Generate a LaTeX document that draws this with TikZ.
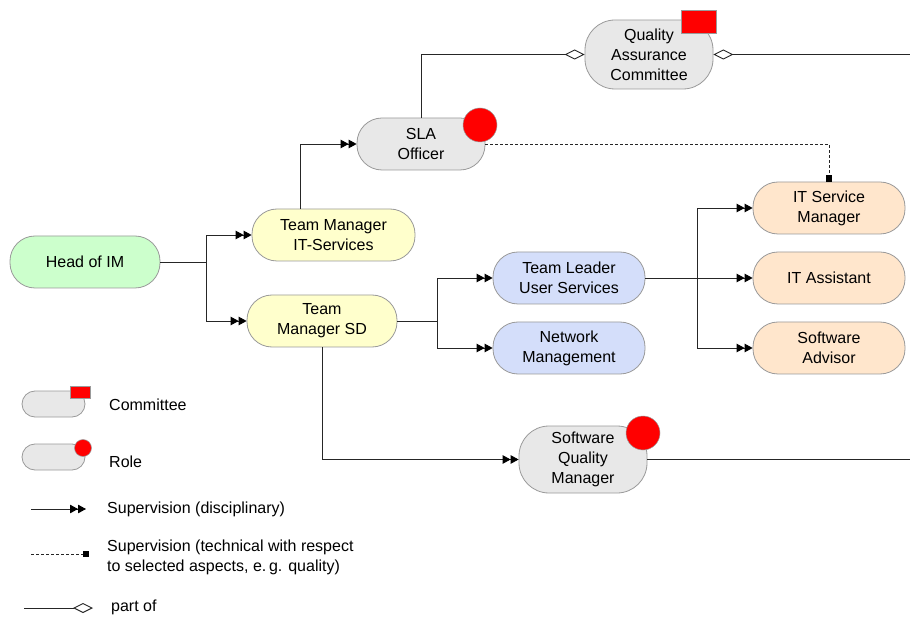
\documentclass[tikz,border=0pt]{standalone}
\usepackage{fontspec}
\setmainfont{Liberation Sans}
\usetikzlibrary{arrows.meta,positioning}
\definecolor{linec}{HTML}{262626}
\definecolor{borderc}{HTML}{9A9A9A}
\definecolor{greenf}{HTML}{CCFFCC}
\definecolor{yellowf}{HTML}{FFFFCC}
\definecolor{grayf}{HTML}{E8E8E8}
\definecolor{bluef}{HTML}{D4DEFA}
\definecolor{peachf}{HTML}{FFE6CC}
\tikzset{
  box/.style={draw=borderc, line width=0.8pt, rectangle, rounded corners=25pt,
    minimum height=52pt, align=center, inner sep=2pt,
    font=\fontsize{16}{20}\selectfont},
  greenbox/.style={box, fill=greenf, minimum width=150pt},
  yellowbox/.style={box, fill=yellowf},
  graybox/.style={box, fill=grayf, minimum width=128pt},
  bluebox/.style={box, fill=bluef, minimum width=152pt},
  peachbox/.style={box, fill=peachf, minimum width=152pt},
  conn/.style={draw=linec, line width=0.9pt},
  sup/.style={conn, -{Triangle[length=8pt,width=8.5pt,color=black]Triangle[length=8pt,width=8.5pt,color=black]}},
  partof/.style={conn},
  tech/.style={conn, dash pattern=on 3pt off 2pt, -{Square[length=6.5pt,width=6.5pt,color=black]}},
  roledot/.style={circle, fill=red, draw=borderc, line width=0.5pt, inner sep=0pt},
  commrect/.style={rectangle, fill=red, draw=borderc, line width=0.8pt, inner sep=0pt},
  legtext/.style={anchor=west, align=left, inner sep=0pt, font=\fontsize{16}{20}\selectfont},
  legbox/.style={draw=borderc, line width=0.8pt, fill=grayf, rectangle, rounded corners=13pt,
    minimum width=63pt, minimum height=26pt, inner sep=0pt}
}
\begin{document}
\begin{tikzpicture}[x=1pt,y=-1pt]
\useasboundingbox[fill=white] (0,0) rectangle (910,617);

% nodes
\node[greenbox] (head) at (85,262) {Head of IM};
\node[yellowbox, minimum width=163pt] (tmit) at (333.5,235) {Team Manager\\IT-Services};
\node[yellowbox, minimum width=150pt] (tmsd) at (322,321) {Team\\Manager SD};
\node[graybox] (sla) at (421,144) {SLA\\Officer};
\node[graybox, minimum height=69pt, rounded corners=30pt] (qac) at (649,54.5) {Quality\\Assurance\\Committee};
\node[bluebox] (tlus) at (569,278) {Team Leader\\User Services};
\node[bluebox] (nm) at (569,348) {Network\\Management};
\node[peachbox] (itsm) at (829,208) {IT Service\\Manager};
\node[peachbox] (ita) at (829,278) {IT Assistant};
\node[peachbox] (sa) at (829,348) {Software\\Advisor};
\node[graybox, minimum height=67pt, rounded corners=30pt] (sqm) at (583,459.5) {Software\\Quality\\Manager};

% decorations
\node[roledot, minimum size=34pt] (sladot) at (480,125) {};
\node[roledot, minimum size=34pt] (sqmdot) at (643,433) {};
\node[commrect, minimum width=35pt, minimum height=23pt] (qacrect) at (698.5,21.5) {};

% free ends
\coordinate (qacend) at (910,54.5);
\coordinate (sqmend) at (910,459.5);

% connectors
\draw[sup] (head.east) -- ++(46,0) |- (tmit);
\draw[sup] (head.east) -- ++(46,0) |- (tmsd);
\draw[sup] ([xshift=-33.5pt]tmit.north) |- (sla);
\draw[partof, -{Diamond[open,length=20pt,width=10pt]}] (sla.north) |- (qac);
\draw[partof, {Diamond[open,length=20pt,width=10pt]}-] (qac.east) -- (qacend);
\draw[tech] (sla.east) -| (itsm.north);
\draw[sup] (tmsd.east) -- ++(40,0) |- (tlus);
\draw[sup] (tmsd.east) -- ++(40,0) |- (nm);
\draw[sup] (tlus.east) -- ++(52,0) |- (itsm);
\draw[sup] (tlus.east) -- (ita.west);
\draw[sup] (tlus.east) -- ++(52,0) |- (sa);
\draw[sup] (tmsd.south) |- (sqm);
\draw[conn] (sqm.east) -- (sqmend);

% legend
\node[legbox] (lgc) at (53.5,404) {};
\node[commrect, minimum width=20pt, minimum height=12pt] (lgcr) at (80,392) {};
\node[legtext] (lgct) at (109,405) {Committee};
\node[legbox] (lgr) at (53.5,457) {};
\node[roledot, minimum size=17pt] (lgrd) at (83,448) {};
\node[legtext] (lgrt) at (109,462) {Role};

\coordinate (ls1) at (31,509);
\coordinate (le1) at (86,509);
\draw[sup] (ls1) -- (le1);
\node[legtext] (lt1) at (107,509) {Supervision (disciplinary)};

\coordinate (ls2) at (31,554);
\coordinate (le2) at (89,554);
\draw[tech] (ls2) -- (le2);
\node[legtext] (lt2) at (107,557) {Supervision (technical with respect\\to selected aspects, e.\,g. quality)};

\coordinate (ls3) at (24,608);
\coordinate (le3) at (93,608);
\draw[partof, -{Diamond[open,length=20pt,width=10pt]}] (ls3) -- (le3);
\node[legtext] (lt3) at (111,607) {part of};
\end{tikzpicture}
\end{document}
